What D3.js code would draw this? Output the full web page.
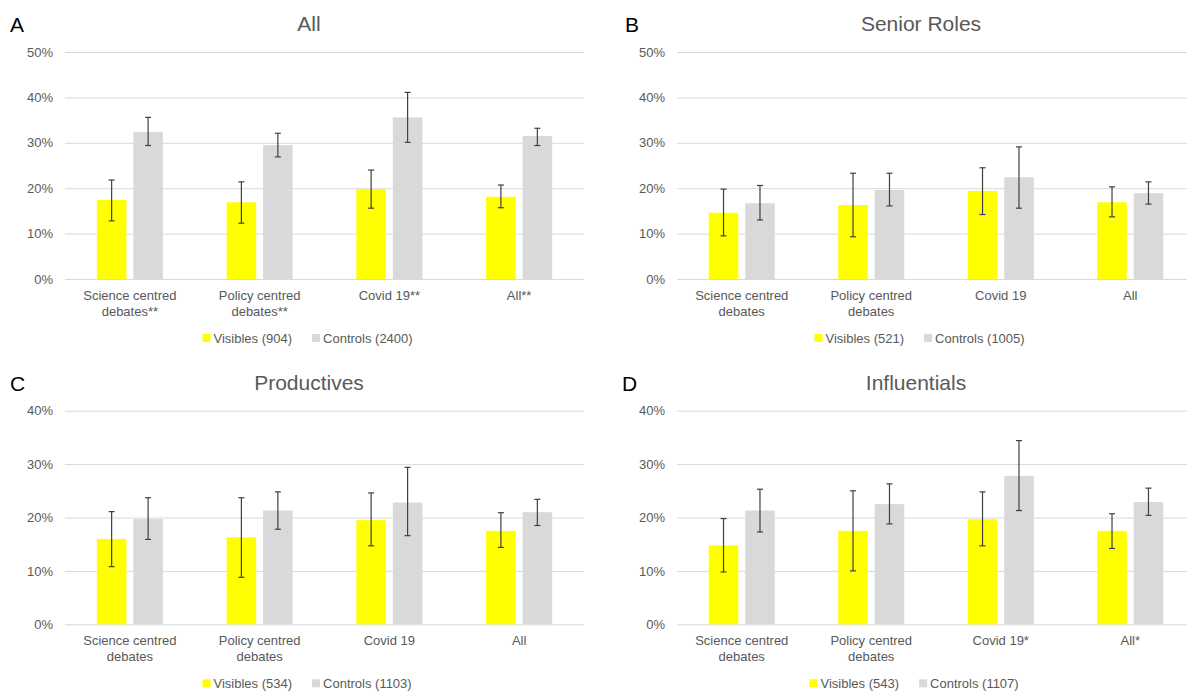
<!DOCTYPE html>
<html><head><meta charset="utf-8">
<script src="https://cdn.jsdelivr.net/npm/d3@7"></script>
<style>
html,body{margin:0;padding:0;background:#fff;}
svg{display:block;font-family:"Liberation Sans",Arial,sans-serif;}
</style></head>
<body>
<svg id="chart" width="1187" height="693"></svg>
<script>
// ---- data ----
const seriesNames = ["Visibles", "Controls"];
const seriesColors = ["#FFFF00", "#D9D9D9"];

const panelLetters = ["A", "B", "C", "D"];
const panelTitles = ["All", "Senior Roles", "Productives", "Influentials"];

const catsA = ["Science centred debates**", "Policy centred debates**", "Covid 19**", "All**"];
const catsB = ["Science centred debates", "Policy centred debates", "Covid 19", "All"];
const catsC = ["Science centred debates", "Policy centred debates", "Covid 19", "All"];
const catsD = ["Science centred debates", "Policy centred debates", "Covid 19*", "All*"];

const legendA = ["Visibles (904)", "Controls (2400)"];
const legendB = ["Visibles (521)", "Controls (1005)"];
const legendC = ["Visibles (534)", "Controls (1103)"];
const legendD = ["Visibles (543)", "Controls (1107)"];

const ticksAB = [0, 0.1, 0.2, 0.3, 0.4, 0.5];
const ticksCD = [0, 0.1, 0.2, 0.3, 0.4];

// values in %
const visA = [17.4, 16.9, 19.8, 18.1];
const visA_lo = [12.8, 12.3, 15.6, 15.7];
const visA_hi = [21.8, 21.4, 24.0, 20.7];
const conA = [32.4, 29.5, 35.6, 31.5];
const conA_lo = [29.4, 26.9, 30.1, 29.4];
const conA_hi = [35.6, 32.1, 41.1, 33.2];

const visB = [14.6, 16.3, 19.4, 16.9];
const visB_lo = [9.5, 9.3, 14.2, 13.7];
const visB_hi = [19.8, 23.3, 24.5, 20.3];
const conB = [16.7, 19.6, 22.4, 18.9];
const conB_lo = [13.0, 16.1, 15.6, 16.5];
const conB_hi = [20.6, 23.3, 29.1, 21.4];

const visC = [16.0, 16.3, 19.5, 17.5];
const visC_lo = [10.8, 8.8, 14.7, 14.4];
const visC_hi = [21.1, 23.7, 24.6, 20.9];
const conC = [19.7, 21.3, 22.8, 21.0];
const conC_lo = [15.9, 17.8, 16.6, 18.5];
const conC_hi = [23.7, 24.8, 29.4, 23.4];

const visD = [14.8, 17.5, 19.7, 17.5];
const visD_lo = [9.8, 10.0, 14.7, 14.2];
const visD_hi = [19.8, 25.0, 24.8, 20.7];
const conD = [21.3, 22.5, 27.8, 22.9];
const conD_lo = [17.3, 18.8, 21.3, 20.4];
const conD_hi = [25.3, 26.3, 34.4, 25.5];

// ---- layout ----
const panels = [
  {cats: catsA, legend: legendA, ticks: ticksAB, vals: [[visA, visA_lo, visA_hi], [conA, conA_lo, conA_hi]],
   x0: 65, x1: 584, yTop: 52, yBot: 279, max: 0.5, center: 309, letterX: 10},
  {cats: catsB, legend: legendB, ticks: ticksAB, vals: [[visB, visB_lo, visB_hi], [conB, conB_lo, conB_hi]],
   x0: 677, x1: 1195, yTop: 52, yBot: 279, max: 0.5, center: 921, letterX: 625},
  {cats: catsC, legend: legendC, ticks: ticksCD, vals: [[visC, visC_lo, visC_hi], [conC, conC_lo, conC_hi]],
   x0: 65, x1: 584, yTop: 410.7, yBot: 624.3, max: 0.4, center: 309, letterX: 10},
  {cats: catsD, legend: legendD, ticks: ticksCD, vals: [[visD, visD_lo, visD_hi], [conD, conD_lo, conD_hi]],
   x0: 677, x1: 1195, yTop: 410.7, yBot: 624.3, max: 0.4, center: 916, letterX: 622}
];

const svg = d3.select("#chart");
const textColor = "#595959";
const fmt = d3.format(".0%");

function wrapLabel(s) {
  if (s.length <= 14) return [s];
  const i = s.lastIndexOf(" ");
  return [s.slice(0, i), s.slice(i + 1)];
}

panels.forEach((p, pi) => {
  const g = svg.append("g");
  const y = d3.scaleLinear().domain([0, p.max]).range([p.yBot, p.yTop]);
  const x = d3.scaleBand().domain(p.cats).range([p.x0, p.x1]).padding(0);
  const bw = x.bandwidth();
  const xs = d3.scaleBand().domain(seriesNames).range([bw / 2 - 33, bw / 2 + 33]).paddingInner(0.19);

  // gridlines + y labels
  const yAxis = d3.axisLeft(y).tickValues(p.ticks).tickFormat(fmt)
    .tickSizeInner(-(p.x1 - p.x0)).tickSizeOuter(0).tickPadding(12);
  const ya = g.append("g").attr("transform", `translate(${p.x0},0)`).call(yAxis);
  ya.select(".domain").remove();
  ya.selectAll(".tick line").attr("stroke", "#D9D9D9").attr("stroke-width", 1);
  ya.selectAll(".tick text").attr("fill", textColor).style("font-size", "13px")
    .style("font-family", "'Liberation Sans', Arial, sans-serif");

  // bars
  seriesNames.forEach((sname, si) => {
    const [v, lo, hi] = p.vals[si];
    const data = p.cats.map((c, i) => ({c, v: v[i] / 100, lo: lo[i] / 100, hi: hi[i] / 100}));
    g.append("g").selectAll("rect").data(data).join("rect")
      .attr("x", d => x(d.c) + xs(sname))
      .attr("y", d => y(d.v))
      .attr("width", xs.bandwidth())
      .attr("height", d => y(0) - y(d.v))
      .attr("fill", seriesColors[si]);
    const eg = g.append("g").attr("stroke", "#404040").attr("stroke-width", 1.2);
    data.forEach(d => {
      const cx = x(d.c) + xs(sname) + xs.bandwidth() / 2;
      eg.append("line").attr("x1", cx).attr("x2", cx).attr("y1", y(d.hi)).attr("y2", y(d.lo));
      eg.append("line").attr("x1", cx - 3).attr("x2", cx + 3).attr("y1", y(d.hi)).attr("y2", y(d.hi));
      eg.append("line").attr("x1", cx - 3).attr("x2", cx + 3).attr("y1", y(d.lo)).attr("y2", y(d.lo));
    });
  });

  // category labels
  p.cats.forEach(c => {
    const lines = wrapLabel(c);
    const t = g.append("text").attr("text-anchor", "middle").attr("fill", textColor)
      .style("font-size", "13px");
    lines.forEach((ln, li) => {
      t.append("tspan").attr("x", x(c) + bw / 2).attr("y", p.yBot + 21 + li * 16).text(ln);
    });
  });

  // title
  g.append("text").attr("x", p.center).attr("y", p.yTop - 21).attr("text-anchor", "middle")
    .attr("fill", textColor).style("font-size", "21px").text(panelTitles[pi]);
  // panel letter
  g.append("text").attr("x", p.letterX).attr("y", p.yTop - 20).attr("fill", "#000")
    .style("font-size", "21px").text(panelLetters[pi]);

  // legend
  const lg = g.append("g");
  const ly = p.yBot + 59;
  const w0 = 11 + 80, gap = 20, w1 = 9 + 93;
  let lx = p.center - (w0 + gap + w1) / 2;
  p.legend.forEach((lt, li) => {
    lg.append("rect").attr("x", lx).attr("y", ly - 4).attr("width", 8).attr("height", 8)
      .attr("fill", seriesColors[li]);
    const t = lg.append("text").attr("x", lx + 11).attr("y", ly + 5).attr("fill", textColor)
      .style("font-size", "13px").text(lt);
    lx += 11 + t.node().getComputedTextLength() + gap;
  });
});
</script>
</body></html>
